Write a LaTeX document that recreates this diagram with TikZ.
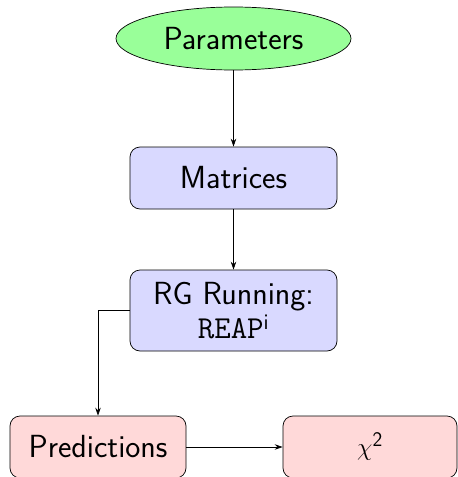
\documentclass[tikz,border=0pt]{standalone}
\usepackage{tikz}
\usetikzlibrary{shapes.geometric,arrows.meta}
\begin{document}
\begin{tikzpicture}[x=1pt,y=-1pt,
  every node/.style={font=\fontsize{32}{36}\selectfont\sffamily, inner sep=0pt},
  blockbox/.style={draw, rounded corners=10pt, line width=0.7pt},
  startnode/.style={draw, ellipse, fill=green!40, line width=0.7pt, minimum width=235pt, minimum height=63pt},
  flow/.style={-{Stealth[length=8pt,width=5.5pt]}, line width=0.7pt}]
\useasboundingbox (0,0) rectangle (458,477);
\node[startnode] (par) at (233.5,38.5) {Parameters};
\node[blockbox, fill=blue!15, minimum width=207pt, minimum height=62pt] (mat) at (233.5,178) {Matrices};
\node[blockbox, fill=blue!15, minimum width=207pt, minimum height=81pt, align=center] (rg) at (233.5,310.5)
  {RG Running:\\[-2pt] {\ttfamily REAP}\textsuperscript{\sffamily i}};
\node[blockbox, fill=red!15, minimum width=176pt, minimum height=62pt] (pred) at (98,447) {Predictions};
\node[blockbox, fill=red!15, minimum width=174pt, minimum height=62pt] (chi) at (370,447) {$\chi^{\mathsf{2}}$};
\draw[flow] (par) -- (mat);
\draw[flow] (mat) -- (rg);
\draw[flow] (rg.west) -| (pred.north);
\draw[flow] (pred) -- (chi);
\end{tikzpicture}
\end{document}
